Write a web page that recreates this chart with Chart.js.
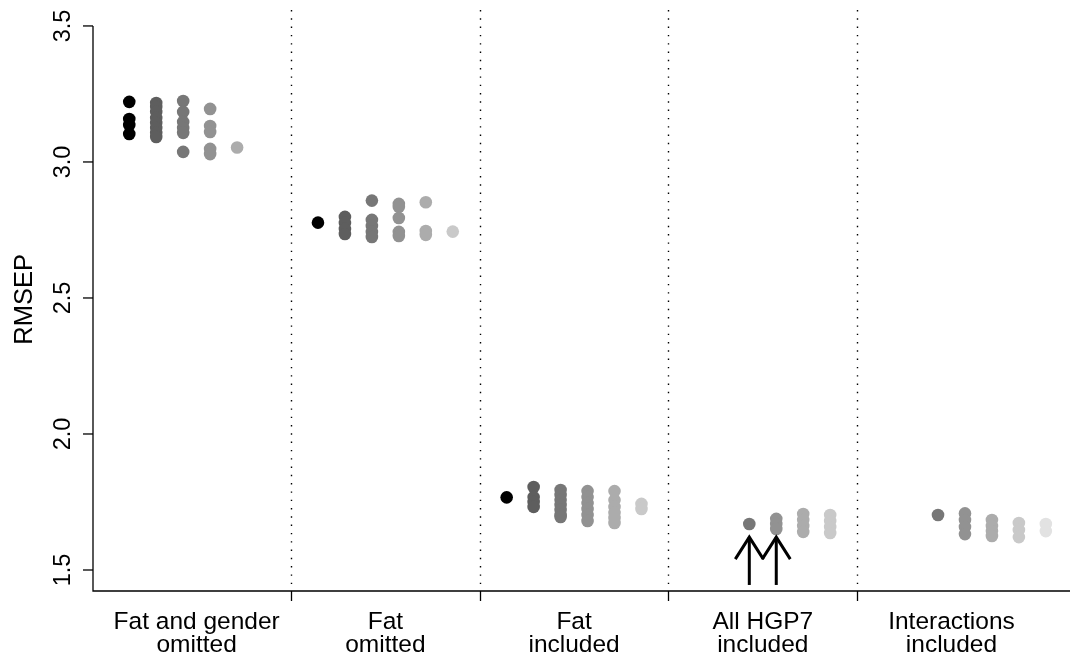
<!DOCTYPE html>
<html>
<head>
<meta charset="utf-8">
<script src="https://cdn.jsdelivr.net/npm/chart.js@4/dist/chart.umd.min.js"></script>
<style>
  html, body { margin: 0; padding: 0; background: #fff; }
  #wrap { width: 1070px; height: 655px; position: relative; }
</style>
</head>
<body>
<div id="wrap"><canvas id="chart"></canvas></div>
<script>
// groups along the x axis
const groupLabels = [
    ['Fat and gender', 'omitted'],
    ['Fat', 'omitted'],
    ['Fat', 'included'],
    ['All HGP7', 'included'],
    ['Interactions', 'included']
];
const groupBoundaries = [1, 2, 3, 4];
const yTickValues = [1.5, 2.0, 2.5, 3.0, 3.5];

// RMSEP values, one array per column (1..7), each with one list per group
const col1 = [[3.221, 3.158, 3.136, 3.103], [2.777], [1.767], [], []];
const col2 = [[3.217, 3.202, 3.184, 3.162, 3.143, 3.125, 3.107, 3.092], [2.798, 2.776, 2.754, 2.735], [1.805, 1.768, 1.750, 1.732], [], []];
const col3 = [[3.224, 3.184, 3.147, 3.125, 3.107, 3.037], [2.858, 2.787, 2.765, 2.743, 2.724], [1.794, 1.776, 1.757, 1.739, 1.721, 1.702, 1.695], [1.669], [1.702]];
const col4 = [[3.195, 3.132, 3.110, 3.048, 3.029], [2.846, 2.835, 2.794, 2.743, 2.728], [1.790, 1.768, 1.746, 1.724, 1.702, 1.680], [1.688, 1.669, 1.651], [1.708, 1.684, 1.658, 1.632]];
const col5 = [[3.053], [2.852, 2.746, 2.732], [1.790, 1.757, 1.732, 1.710, 1.691, 1.673], [1.706, 1.684, 1.662, 1.640], [1.684, 1.662, 1.643, 1.625]];
const col6 = [[], [2.744], [1.743, 1.724], [1.702, 1.680, 1.658, 1.636], [1.673, 1.647, 1.621]];
const col7 = [[], [], [], [], [1.669, 1.643]];

// arrows under the "All HGP7" group
const arrowX = [3 + 3 / 7, 3 + 4 / 7];
const arrowTip = 1.621;
const arrowBase = 1.445;

const columns = [col1, col2, col3, col4, col5, col6, col7];
const colColors = ['#000000', '#5e5e5e', '#777777', '#929292', '#acacac', '#c9c9c9', '#e2e2e2'];

const datasets = columns.map((col, c) => {
    const pts = [];
    col.forEach((vals, g) => {
        vals.forEach(v => pts.push({ x: g + (c + 1) / 7, y: v }));
    });
    return {
        data: pts,
        backgroundColor: colColors[c],
        borderWidth: 0,
        pointRadius: 6.3,
        pointHoverRadius: 6.3
    };
});

const font = '"Liberation Sans", Arial, sans-serif';

// axes, labels, dotted separators and arrows drawn with the chart scales
const rPlot = {
    id: 'rPlot',
    beforeDatasetsDraw(chart) {
        const ctx = chart.ctx;
        const x = chart.scales.x;
        const area = chart.chartArea;
        ctx.save();
        ctx.strokeStyle = '#000';
        ctx.lineWidth = 1.4;
        ctx.setLineDash([1.4, 6.9]);
        groupBoundaries.forEach(b => {
            const px = Math.round(x.getPixelForValue(b)) + 0.5;
            ctx.beginPath();
            ctx.moveTo(px, area.top + 2);
            ctx.lineTo(px, area.bottom - 2);
            ctx.stroke();
        });
        ctx.restore();
    },
    afterDraw(chart) {
        const ctx = chart.ctx;
        const x = chart.scales.x;
        const y = chart.scales.y;
        const area = chart.chartArea;
        ctx.save();
        ctx.strokeStyle = '#000';
        ctx.fillStyle = '#000';
        ctx.lineWidth = 1.3;

        // y axis line and ticks
        const top = y.getPixelForValue(yTickValues[yTickValues.length - 1]);
        ctx.beginPath();
        ctx.moveTo(area.left, top);
        ctx.lineTo(area.left, area.bottom);
        ctx.lineTo(area.right, area.bottom);
        ctx.stroke();
        yTickValues.forEach(v => {
            const py = y.getPixelForValue(v);
            ctx.beginPath();
            ctx.moveTo(area.left - 10, py);
            ctx.lineTo(area.left, py);
            ctx.stroke();
            ctx.save();
            ctx.translate(area.left - 23, py);
            ctx.rotate(-Math.PI / 2);
            ctx.font = '23.5px ' + font;
            ctx.textAlign = 'center';
            ctx.textBaseline = 'alphabetic';
            ctx.fillText(v.toFixed(1), 0, 0);
            ctx.restore();
        });

        // y title
        ctx.save();
        ctx.translate(32, y.getPixelForValue(2.495));
        ctx.rotate(-Math.PI / 2);
        ctx.font = '25.5px ' + font;
        ctx.textAlign = 'center';
        ctx.fillText('RMSEP', 0, 0);
        ctx.restore();

        // x ticks at group boundaries
        groupBoundaries.forEach(b => {
            const px = Math.round(x.getPixelForValue(b)) + 0.5;
            ctx.beginPath();
            ctx.moveTo(px, area.bottom);
            ctx.lineTo(px, area.bottom + 10);
            ctx.stroke();
        });

        // group labels
        ctx.font = '24.5px ' + font;
        ctx.textAlign = 'center';
        ctx.textBaseline = 'alphabetic';
        groupLabels.forEach((lines, g) => {
            const px = x.getPixelForValue(g + 0.5);
            lines.forEach((t, i) => ctx.fillText(t, px, area.bottom + 38 + i * 23));
        });

        // arrows
        ctx.lineWidth = 3;
        ctx.lineCap = 'butt';
        ctx.lineJoin = 'miter';
        arrowX.forEach(a => {
            const px = x.getPixelForValue(a);
            const tip = y.getPixelForValue(arrowTip);
            const base = y.getPixelForValue(arrowBase);
            ctx.beginPath();
            ctx.moveTo(px, base);
            ctx.lineTo(px, tip);
            ctx.stroke();
            ctx.beginPath();
            ctx.moveTo(px - 14, tip + 22);
            ctx.lineTo(px, tip);
            ctx.lineTo(px + 14, tip + 22);
            ctx.stroke();
        });
        ctx.restore();
    }
};

new Chart(document.getElementById('chart').getContext('2d'), {
    type: 'scatter',
    data: { datasets: datasets },
    options: {
        responsive: true,
        maintainAspectRatio: false,
        animation: false,
        layout: { autoPadding: false, padding: { left: 93, right: 0, top: 8, bottom: 64 } },
        plugins: { legend: { display: false }, tooltip: { enabled: false } },
        scales: {
            x: { type: 'linear', display: false, min: -0.0493, max: 5.128 },
            y: { type: 'linear', display: false, min: 1.4228, max: 3.566 }
        }
    },
    plugins: [rPlot]
});
</script>
</body>
</html>
